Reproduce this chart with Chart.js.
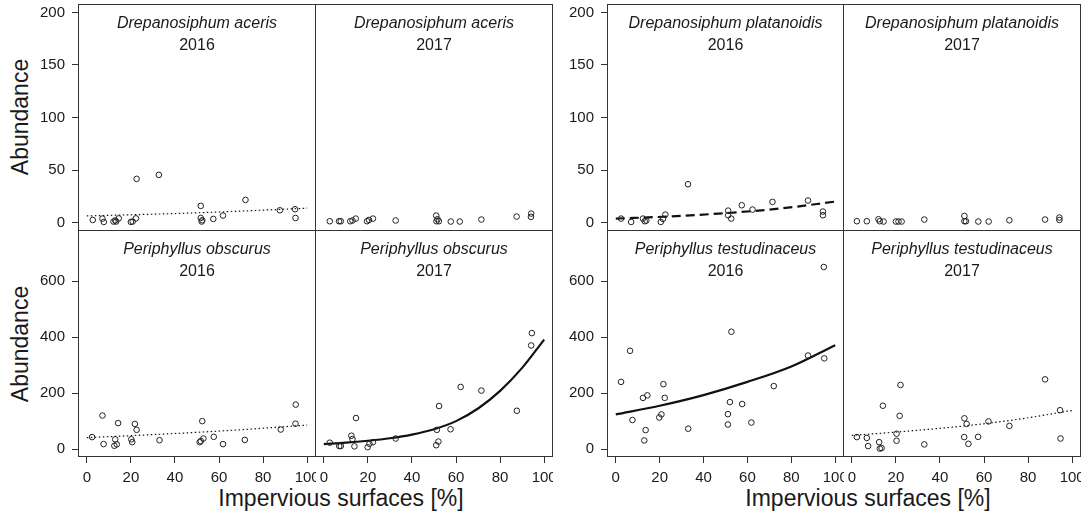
<!DOCTYPE html>
<html>
<head>
<meta charset="utf-8">
<script src="https://cdn.jsdelivr.net/npm/chart.js@4.4.1/dist/chart.umd.min.js"></script>
<style>
  body { margin: 0; background: #fff; }
  #fig { position: relative; width: 1086px; height: 516px; overflow: hidden;
         font-family: 'Liberation Sans', Arial, sans-serif; color: #1a1a1a; }
  #fig canvas { position: absolute; }
  .ylab { position: absolute; font-size: 23px; line-height: 23px; white-space: nowrap;
          transform: translate(-50%, -50%) rotate(-90deg); }
  .xlab { position: absolute; font-size: 23px; line-height: 23px; white-space: nowrap;
          transform: translateX(-50%); }
</style>
</head>
<body>
<div id="fig">
  <div class="ylab" style="left:20px; top:117px;">Abundance</div>
  <div class="ylab" style="left:20px; top:344px;">Abundance</div>
  <div class="xlab" style="left:341px; top:487px;">Impervious surfaces [%]</div>
  <div class="xlab" style="left:868px; top:487px;">Impervious surfaces [%]</div>
</div>
<script>
// tick labels
const xTicks = [0, 20, 40, 60, 80, 100];
const yTicksTop = [0, 50, 100, 150, 200];
const yTicksBottom = [0, 200, 400, 600];

// Drepanosiphum aceris
const acer16X = [2.7, 7.1, 7.7, 12.1, 12.9, 13.3, 14.5, 20.0, 20.8, 22.3, 22.6, 32.7, 51.7, 51.7, 52.1, 52.4, 57.4, 61.8, 72.0, 87.6, 94.5, 94.7];
const acer16Y = [2.5, 3.8, 0.6, 1, 2, 1, 4, 0.6, 1, 4, 41.6, 45.4, 15.9, 4.4, 1, 2.2, 3.5, 6.7, 21.6, 11.7, 12.7, 4.4];
const acer16FitX = [0, 50, 100];
const acer16FitY = [6.3, 9.3, 13.7];
const acer17X = [2.7, 6.9, 7.7, 12.0, 13.0, 14.5, 19.6, 20.5, 22.3, 32.6, 51.0, 51.1, 51.6, 52.2, 57.6, 61.7, 71.5, 87.5, 94.0, 94.1];
const acer17Y = [1.3, 1.3, 1.3, 1.3, 2, 3.8, 1.3, 2.5, 3.8, 2, 6.7, 1.3, 3.2, 1.3, 1, 1, 2.9, 5.7, 5.4, 8.6];

// Drepanosiphum platanoidis
const plat16X = [2.4, 7.0, 12.4, 13.2, 13.9, 20.5, 21.5, 22.6, 32.9, 51.2, 51.2, 52.6, 57.4, 62.3, 71.4, 87.6, 94.4, 94.4];
const plat16Y = [3.8, 0.6, 3.8, 1.3, 1.9, 0.6, 3.5, 7.6, 36.5, 11.4, 7, 3.8, 16.5, 12.4, 19.7, 21, 10.5, 7];
const plat16FitX = [0, 25, 50, 75, 100];
const plat16FitY = [3.8, 5.9, 9, 13.4, 20];
const plat17X = [2.3, 6.8, 12.1, 12.7, 14.4, 20.0, 21.2, 22.6, 32.9, 51.1, 51.1, 51.8, 57.4, 62.1, 71.5, 87.7, 94.2, 94.2];
const plat17Y = [1.3, 1.3, 3.2, 1.3, 1, 1, 1, 1, 2.9, 6.3, 1.3, 1.3, 1, 1, 2.2, 2.9, 4.8, 2.5];

// Periphyllus obscurus
const obsc16X = [2.4, 7.1, 7.6, 12.9, 12.5, 13.6, 14.2, 20.2, 20.6, 21.8, 22.6, 33.0, 51.2, 51.7, 52.4, 52.9, 57.6, 61.8, 71.7, 88.0, 94.7, 94.8];
const obsc16Y = [43, 120, 18, 35, 12, 17, 93, 35, 25, 90, 69, 32, 25, 29, 100, 38, 44, 18, 33, 70, 91, 159];
const obsc16FitX = [0, 25, 50, 75, 100];
const obsc16FitY = [41, 50, 60, 72, 86];
const obsc17X = [2.7, 7.0, 7.7, 12.5, 13.0, 13.9, 14.6, 19.9, 20.7, 22.3, 32.6, 51.0, 51.3, 52.0, 52.3, 57.5, 62.1, 71.5, 87.6, 94.1, 94.4];
const obsc17Y = [23, 11, 11, 48, 36, 10, 111, 7, 19, 25, 38, 14, 69, 27, 154, 71, 222, 209, 137, 370, 414];
const obsc17FitX = [0, 10, 20, 30, 40, 50, 60, 70, 80, 90, 100];
const obsc17FitY = [18, 23, 30, 39, 52, 71, 100, 145, 208, 290, 391];

// Periphyllus testudinaceus
const test16X = [2.4, 6.5, 7.6, 12.4, 13.0, 13.6, 14.4, 19.8, 20.8, 21.7, 22.3, 33.0, 51.1, 51.1, 52.0, 52.7, 57.6, 61.8, 72.0, 87.6, 94.8, 95.0];
const test16Y = [240, 351, 104, 183, 31, 68, 192, 113, 124, 232, 183, 73, 125, 88, 168, 419, 161, 95, 225, 334, 650, 324];
const test16FitX = [0, 20, 40, 60, 80, 100];
const test16FitY = [124, 155, 193, 240, 295, 371];
const test17X = [2.3, 6.8, 7.4, 12.4, 12.7, 13.5, 14.1, 20.3, 20.3, 21.7, 22.1, 32.9, 51.0, 51.1, 52.1, 52.9, 57.3, 62.0, 71.5, 87.7, 94.5, 94.7];
const test17Y = [43, 40, 11, 25, 2, 4, 155, 55, 30, 119, 229, 17, 43, 110, 90, 19, 44, 99, 83, 249, 139, 38];
const test17FitX = [0, 25, 50, 75, 100];
const test17FitY = [49, 64, 82, 106, 138];

const TEXT = '#1a1a1a';
const FONT = "'Liberation Sans', Arial, Helvetica, sans-serif";
const fig = document.getElementById('fig');

const lineStyles = {
  dotted: { borderWidth: 1.2, borderDash: [1.5, 2.5] },
  dashed: { borderWidth: 2.2, borderDash: [9, 5] },
  solid: { borderWidth: 2.2, borderDash: [] }
};

// box round the panel plus the two-line heading inside it
const panelFrame = {
  id: 'panelFrame',
  afterDraw(chart, args, opts) {
    const { ctx, chartArea: a } = chart;
    ctx.save();
    ctx.strokeStyle = '#333';
    ctx.lineWidth = 1;
    ctx.strokeRect(a.left + 0.5, a.top + 0.5, a.right - a.left - 1, a.bottom - a.top - 1);
    ctx.fillStyle = TEXT;
    ctx.textAlign = 'center';
    ctx.textBaseline = 'alphabetic';
    const cx = (a.left + a.right) / 2;
    ctx.font = 'italic 16px ' + FONT;
    ctx.fillText(opts.species, cx, a.top + 24);
    ctx.font = '16px ' + FONT;
    ctx.fillText(opts.year, cx, a.top + 46);
    ctx.restore();
  }
};

const tickGrid = { display: true, drawOnChartArea: false, drawTicks: true, tickLength: 6, color: '#333', lineWidth: 1 };

function makePanel(p) {
  const left = p.showY ? p.box[0] - 78 : p.box[0];
  const top = p.box[1];
  const w = p.box[2] - left;
  const h = p.box[3] - top + (p.showX ? 59 : 0);
  const cv = document.createElement('canvas');
  cv.width = w;
  cv.height = h;
  cv.style.left = left + 'px';
  cv.style.top = top + 'px';
  fig.appendChild(cv);

  const datasets = [{
    data: p.xs.map((x, i) => ({ x: x, y: p.ys[i] })),
    pointStyle: 'circle',
    pointRadius: 2.8,
    pointBorderWidth: 1,
    pointBorderColor: '#222',
    pointBackgroundColor: 'rgba(0,0,0,0)',
    showLine: false
  }];
  if (p.fitX) {
    datasets.push(Object.assign({
      data: p.fitX.map((x, i) => ({ x: x, y: p.fitY[i] })),
      showLine: true,
      pointRadius: 0,
      borderColor: '#111',
      cubicInterpolationMode: 'monotone'
    }, lineStyles[p.fit]));
  }

  new Chart(cv, {
    type: 'scatter',
    data: { datasets },
    options: {
      responsive: false,
      animation: false,
      layout: { padding: 0, autoPadding: false },
      plugins: {
        legend: { display: false },
        tooltip: { enabled: false },
        panelFrame: { species: p.species, year: p.year }
      },
      scales: {
        x: {
          min: -4, max: 104,
          display: p.showX,
          grid: tickGrid,
          border: { display: false },
          afterBuildTicks: s => { s.ticks = xTicks.map(v => ({ value: v })); },
          afterFit: s => {
            s.height = p.showX ? 59 : 0;
            s.paddingLeft = 0;
            s.paddingRight = 0;
          },
          ticks: { color: TEXT, font: { family: FONT, size: 15 }, padding: 6, maxRotation: 0, autoSkip: false }
        },
        y: {
          min: p.yMin, max: p.yMax,
          display: p.showY,
          grid: tickGrid,
          border: { display: false },
          afterBuildTicks: s => { s.ticks = p.yTicks.map(v => ({ value: v })); },
          afterFit: s => {
            s.width = p.showY ? 78 : 0;
            s.paddingTop = 0;
            s.paddingBottom = 0;
          },
          ticks: { color: TEXT, font: { family: FONT, size: 15 }, padding: 7, autoSkip: false }
        }
      }
    },
    plugins: [panelFrame]
  });
}

const topRow = { yMin: -8, yMax: 208, yTicks: yTicksTop };
const bottomRow = { yMin: -28, yMax: 782, yTicks: yTicksBottom };

makePanel(Object.assign({ box: [78, 4, 316, 231], showY: true, showX: false,
  species: 'Drepanosiphum aceris', year: '2016', xs: acer16X, ys: acer16Y,
  fitX: acer16FitX, fitY: acer16FitY, fit: 'dotted' }, topRow));
makePanel(Object.assign({ box: [315, 4, 553, 231], showY: false, showX: false,
  species: 'Drepanosiphum aceris', year: '2017', xs: acer17X, ys: acer17Y }, topRow));
makePanel(Object.assign({ box: [607, 4, 844, 231], showY: true, showX: false,
  species: 'Drepanosiphum platanoidis', year: '2016', xs: plat16X, ys: plat16Y,
  fitX: plat16FitX, fitY: plat16FitY, fit: 'dashed' }, topRow));
makePanel(Object.assign({ box: [843, 4, 1081, 231], showY: false, showX: false,
  species: 'Drepanosiphum platanoidis', year: '2017', xs: plat17X, ys: plat17Y }, topRow));

makePanel(Object.assign({ box: [78, 230, 316, 457], showY: true, showX: true,
  species: 'Periphyllus obscurus', year: '2016', xs: obsc16X, ys: obsc16Y,
  fitX: obsc16FitX, fitY: obsc16FitY, fit: 'dotted' }, bottomRow));
makePanel(Object.assign({ box: [315, 230, 553, 457], showY: false, showX: true,
  species: 'Periphyllus obscurus', year: '2017', xs: obsc17X, ys: obsc17Y,
  fitX: obsc17FitX, fitY: obsc17FitY, fit: 'solid' }, bottomRow));
makePanel(Object.assign({ box: [607, 230, 844, 457], showY: true, showX: true,
  species: 'Periphyllus testudinaceus', year: '2016', xs: test16X, ys: test16Y,
  fitX: test16FitX, fitY: test16FitY, fit: 'solid' }, bottomRow));
makePanel(Object.assign({ box: [843, 230, 1081, 457], showY: false, showX: true,
  species: 'Periphyllus testudinaceus', year: '2017', xs: test17X, ys: test17Y,
  fitX: test17FitX, fitY: test17FitY, fit: 'dotted' }, bottomRow));
</script>
</body>
</html>
